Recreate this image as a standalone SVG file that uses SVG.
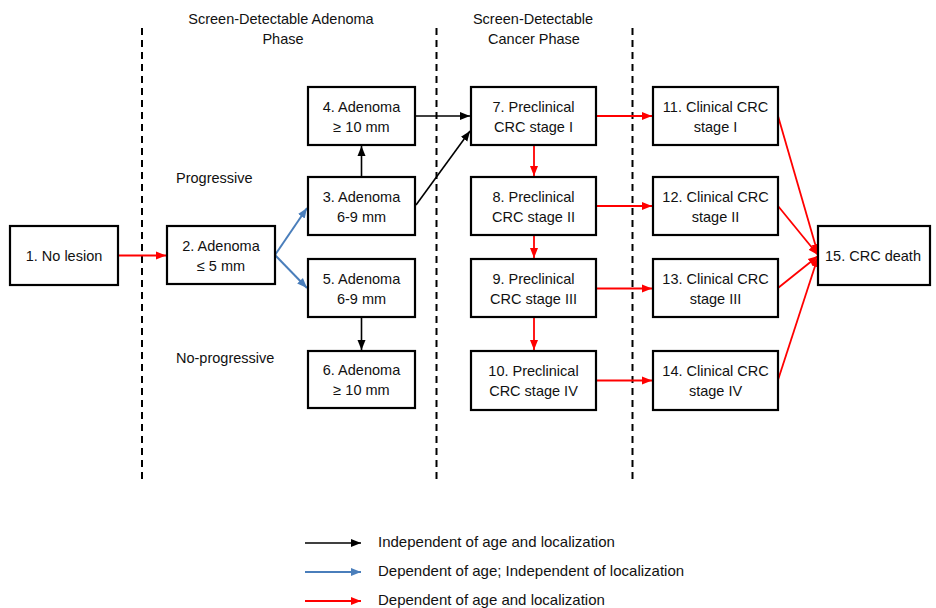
<svg xmlns="http://www.w3.org/2000/svg" width="936" height="608" viewBox="0 0 936 608">
<style>
text{font-family:"Liberation Sans",Arial,sans-serif;font-size:14.5px;fill:#111;text-anchor:middle}
.box{fill:#fff;stroke:#000;stroke-width:2.2}
.dash{stroke:#000;stroke-width:2;stroke-dasharray:7 5;fill:none}
.k{stroke:#000;stroke-width:1.6;fill:none;marker-end:url(#ak)}
.b{stroke:#4A7EBB;stroke-width:2;fill:none;marker-end:url(#ab)}
.r{stroke:#FF0000;stroke-width:1.8;fill:none;marker-end:url(#ar)}
.l{text-anchor:start}
.lg{font-size:15px}
</style>
<defs>
<marker id="ak" markerUnits="userSpaceOnUse" markerWidth="10" markerHeight="10" viewBox="0 0 10 10" refX="10" refY="5" orient="auto"><path d="M0,1 L10,5 L0,9 z" fill="#000"/></marker>
<marker id="ab" markerUnits="userSpaceOnUse" markerWidth="10" markerHeight="10" viewBox="0 0 10 10" refX="10" refY="5" orient="auto"><path d="M0,1 L10,5 L0,9 z" fill="#4A7EBB"/></marker>
<marker id="ar" markerUnits="userSpaceOnUse" markerWidth="10" markerHeight="10" viewBox="0 0 10 10" refX="10" refY="5" orient="auto"><path d="M0,1 L10,5 L0,9 z" fill="#FF0000"/></marker>
</defs>
<rect width="936" height="608" fill="#fff"/>
<g id="dividers">
<line class="dash" x1="142" y1="28" x2="142" y2="480"/>
<line class="dash" x1="436.5" y1="28" x2="436.5" y2="480"/>
<line class="dash" x1="632.5" y1="28" x2="632.5" y2="480"/>
</g>
<g id="headers">
<text x="281" y="24">Screen-Detectable Adenoma</text>
<text x="283" y="44">Phase</text>
<text x="533" y="24">Screen-Detectable</text>
<text x="534" y="44">Cancer Phase</text>
<text class="l" x="176" y="183">Progressive</text>
<text class="l" x="176" y="363">No-progressive</text>
</g>
<g id="connectors">
<line class="r" x1="118" y1="255.5" x2="166" y2="255.5"/>
<line class="b" x1="275" y1="255" x2="307" y2="208"/>
<line class="b" x1="275" y1="255" x2="307" y2="288"/>
<line class="k" x1="361.5" y1="177" x2="361.5" y2="146"/>
<line class="k" x1="415" y1="116" x2="470" y2="116"/>
<line class="k" x1="416" y1="205" x2="470" y2="131"/>
<line class="k" x1="361.5" y1="317" x2="361.5" y2="350"/>
<line class="r" x1="534" y1="145" x2="534" y2="176"/>
<line class="r" x1="534" y1="235" x2="534" y2="258"/>
<line class="r" x1="534" y1="317" x2="534" y2="350"/>
<line class="r" x1="596" y1="116" x2="652" y2="116"/>
<line class="r" x1="596" y1="206" x2="652" y2="206"/>
<line class="r" x1="596" y1="288.5" x2="652" y2="288.5"/>
<line class="r" x1="596" y1="380.5" x2="652" y2="380.5"/>
<line class="r" x1="778" y1="116" x2="818" y2="254"/>
<line class="r" x1="778" y1="206" x2="818" y2="255"/>
<line class="r" x1="778" y1="288" x2="818" y2="256"/>
<line class="r" x1="778" y1="380" x2="818" y2="257"/>
</g>
<g id="n1"><rect class="box" x="10" y="226" width="108" height="59"/><text x="64" y="261">1. No lesion</text></g>
<g id="n2"><rect class="box" x="167" y="226" width="108" height="58"/><text x="221" y="251">2. Adenoma</text><text x="221" y="271">≤ 5 mm</text></g>
<g id="n4"><rect class="box" x="308" y="87" width="107" height="58"/><text x="361.5" y="111.5">4. Adenoma</text><text x="361.5" y="131.5">≥ 10 mm</text></g>
<g id="n3"><rect class="box" x="308" y="177" width="107" height="58"/><text x="361.5" y="201.5">3. Adenoma</text><text x="361.5" y="221.5">6-9 mm</text></g>
<g id="n5"><rect class="box" x="308" y="259" width="107" height="58"/><text x="361.5" y="283.5">5. Adenoma</text><text x="361.5" y="303.5">6-9 mm</text></g>
<g id="n6"><rect class="box" x="308" y="351" width="107" height="57"/><text x="361.5" y="374.5">6. Adenoma</text><text x="361.5" y="394.5">≥ 10 mm</text></g>
<g id="n7"><rect class="box" x="471" y="87" width="125" height="58"/><text x="533.5" y="111.5">7. Preclinical</text><text x="533.5" y="131.5">CRC stage I</text></g>
<g id="n8"><rect class="box" x="471" y="177" width="125" height="58"/><text x="533.5" y="201.5">8. Preclinical</text><text x="533.5" y="221.5">CRC stage II</text></g>
<g id="n9"><rect class="box" x="471" y="259" width="125" height="58"/><text x="533.5" y="283.5">9. Preclinical</text><text x="533.5" y="303.5">CRC stage III</text></g>
<g id="n10"><rect class="box" x="471" y="351" width="125" height="59"/><text x="533.5" y="375.5">10. Preclinical</text><text x="533.5" y="395.5">CRC stage IV</text></g>
<g id="n11"><rect class="box" x="653" y="87" width="125" height="58"/><text x="715.5" y="111.5">11. Clinical CRC</text><text x="715.5" y="131.5">stage I</text></g>
<g id="n12"><rect class="box" x="653" y="177" width="125" height="58"/><text x="715.5" y="201.5">12. Clinical CRC</text><text x="715.5" y="221.5">stage II</text></g>
<g id="n13"><rect class="box" x="653" y="259" width="125" height="58"/><text x="715.5" y="283.5">13. Clinical CRC</text><text x="715.5" y="303.5">stage III</text></g>
<g id="n14"><rect class="box" x="653" y="351" width="125" height="59"/><text x="715.5" y="375.5">14. Clinical CRC</text><text x="715.5" y="395.5">stage IV</text></g>
<g id="n15"><rect class="box" x="818" y="226" width="112" height="59"/><text x="873" y="261">15. CRC death</text></g>
<g id="legend">
<line class="k" x1="305" y1="543" x2="361" y2="543"/>
<line class="b" x1="305" y1="572" x2="361" y2="572"/>
<line class="r" x1="305" y1="601" x2="361" y2="601"/>
<text class="l lg" x="378" y="547">Independent of age and localization</text>
<text class="l lg" x="378" y="576">Dependent of age; Independent of localization</text>
<text class="l lg" x="378" y="605">Dependent of age and localization</text>
</g>
</svg>
